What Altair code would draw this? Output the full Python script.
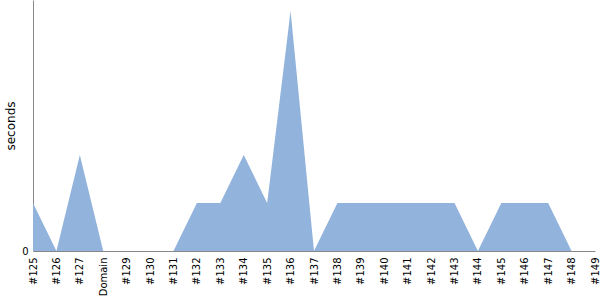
import altair as alt
import pandas as pd

labels = ["#125", "#126", "#127", "Domain", "#129", "#130", "#131", "#132", "#133",
          "#134", "#135", "#136", "#137", "#138", "#139", "#140", "#141", "#142",
          "#143", "#144", "#145", "#146", "#147", "#148", "#149"]
seconds = [1, 0, 2, 0, 0, 0, 0, 1, 1, 2, 1, 5, 0, 1, 1, 1, 1, 1, 1, 0, 1, 1, 1, 0, 0]

df = pd.DataFrame({"build": labels, "seconds": seconds})

chart = alt.Chart(df).mark_area(color="#92b3dc", opacity=1, interpolate="linear").encode(
    x=alt.X("build:N", sort=labels, title=None,
            scale=alt.Scale(type="point", padding=0),
            axis=alt.Axis(labelAngle=-90, ticks=False, labelPadding=6, labelFontSize=10,
                          labelFont="DejaVu Sans", labelColor="#000", domainColor="#888",
                          grid=False)),
    y=alt.Y("seconds:Q", title="seconds",
            scale=alt.Scale(domain=[0, 5.23], nice=False, zero=True),
            axis=alt.Axis(values=[0], ticks=False, grid=False, labelFontSize=10,
                          labelFont="DejaVu Sans", labelColor="#000", domainColor="#888",
                          titleFont="DejaVu Sans", titleFontSize=12, titleFontWeight="normal",
                          titleColor="#000", titlePadding=4, labelPadding=5)),
).properties(
    width=562, height=251,
    autosize=alt.AutoSizeParams(type="none"),
    padding={"left": 33, "top": 0, "right": 5, "bottom": 49},
).configure_view(stroke=None)

chart.save("out.html", embed_options={"renderer": "svg", "actions": False})
